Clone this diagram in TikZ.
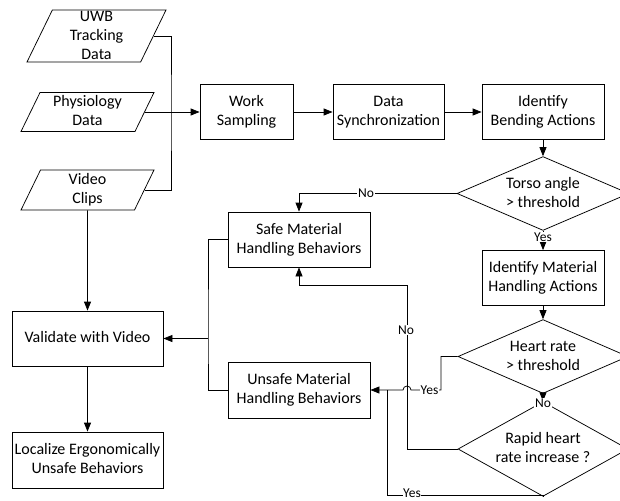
\documentclass[tikz,border=0pt]{standalone}
\usepackage{fontspec}
\setmainfont{Carlito}
\usetikzlibrary{shapes.geometric,arrows.meta}

\newcommand{\linhas}[1]{\smash{\raisebox{-5pt}{\begin{tabular}{@{}c@{}}#1\end{tabular}}}}

\tikzset{
  caixa/.style={draw, rectangle, inner sep=0pt, font=\fontsize{16}{19}\selectfont},
  dado/.style={draw, trapezium, trapezium left angle=64, trapezium right angle=116,
    trapezium stretches body=true, inner xsep=0pt, font=\fontsize{16}{19}\selectfont},
  decisao/.style={draw, diamond, inner sep=0pt, font=\fontsize{16}{19}\selectfont},
  seta/.style={-{Triangle[length=9pt,width=7pt]}},
  rotulo/.style={fill=white, inner sep=1pt, font=\fontsize{13.5}{15}\selectfont},
}

\begin{document}
\begin{tikzpicture}[x=1pt, y=-1pt, line width=0.75pt]

\clip (0,0) rectangle (620,500);

% Entradas
\node[dado, minimum width=139, inner ysep=26pt] (uwb) at (96.5,36) {\linhas{UWB\\Tracking\\Data}};
\node[dado, minimum width=133, inner ysep=19.5pt] (phys) at (87.5,112) {\linhas{Physiology\\Data}};
\node[dado, minimum width=133, inner ysep=20pt] (video) at (87.5,190) {\linhas{Video\\Clips}};

% Linha superior
\node[caixa, minimum width=93, minimum height=55] (work) at (246.5,112) {\linhas{Work\\Sampling}};
\node[caixa, minimum width=111, minimum height=55] (sync) at (388.5,112) {\linhas{Data\\Synchronization}};
\node[caixa, minimum width=122, minimum height=55] (bend) at (543,112) {\linhas{Identify\\Bending Actions}};

% Decisoes
\node[decisao, minimum width=172, minimum height=59] (torso) at (543,193.5) {\linhas{Torso angle\\> threshold}};
\node[caixa, minimum width=122, minimum height=55] (material) at (543,278) {\linhas{Identify Material\\Handling Actions}};
\node[decisao, minimum width=170, minimum height=59] (heart) at (543,356.5) {\linhas{Heart rate\\> threshold}};
\node[decisao, minimum width=170, minimum height=58] (rapid) at (543,449) {\linhas{Rapid heart\\rate increase ?}};

% Comportamentos
\node[caixa, minimum width=142, minimum height=55] (safe) at (299,239.5) {\linhas{Safe Material\\Handling Behaviors}};
\node[caixa, minimum width=142, minimum height=56] (unsafe) at (299,390) {\linhas{Unsafe Material\\Handling Behaviors}};

% Validacao
\node[caixa, minimum width=151, minimum height=55] (validate) at (87.5,338.5) {\linhas{Validate with Video}};
\node[caixa, minimum width=151, minimum height=56] (localize) at (87.5,460) {\linhas{Localize Ergonomically\\Unsafe Behaviors}};

% Juncao das entradas
\coordinate (bus) at (171,112);
\draw (uwb.east) -| (bus) |- (video.east);
\draw[seta] (phys.east) -- (work.west);

% Fluxo principal
\draw[seta] (work) -- (sync);
\draw[seta] (sync) -- (bend);
\draw[seta] (bend) -- (torso);
\draw[seta] (torso.west) -| (safe.north);
\node[rotulo] (notorso) at (366,193.5) {No};
\draw[seta] (torso) -- (material);
\node[rotulo] (yestorso) at (543,237) {Yes};
\draw[seta] (material) -- (heart);
\draw[seta] (heart) -- (rapid);
\node[rotulo] (noheart) at (543,403) {No};

% Heart rate > threshold: Yes (com salto)
\coordinate (hy) at (441,390);
\draw[seta] (heart.west) -| (hy) -- (411,390) arc[start angle=0, end angle=180, radius=4pt] -- (unsafe.east);
\node[rotulo, inner sep=0.5pt] (yesheart) at (429.5,390) {Yes};

% Rapid heart rate: No
\coordinate (rn) at (407,285);
\draw[seta] (rapid.west) -| (rn) -| (safe.south);
\node[rotulo] (norapid) at (406,330) {No};

% Rapid heart rate: Yes
\coordinate (ry) at (387,495);
\coordinate (rj) at (387,390);
\draw (rapid.south) |- (ry) -- (rj);
\node[rotulo, inner sep=0pt] (yesrapid) at (412,493.5) {Yes};

% Para a validacao
\coordinate (jv) at (208,338.5);
\draw (safe.west) -| (jv) |- (unsafe.west);
\draw[seta] (jv) -- (validate.east);
\draw[seta] (video.south) -- (validate.north);
\draw[seta] (validate) -- (localize);

\end{tikzpicture}
\end{document}
